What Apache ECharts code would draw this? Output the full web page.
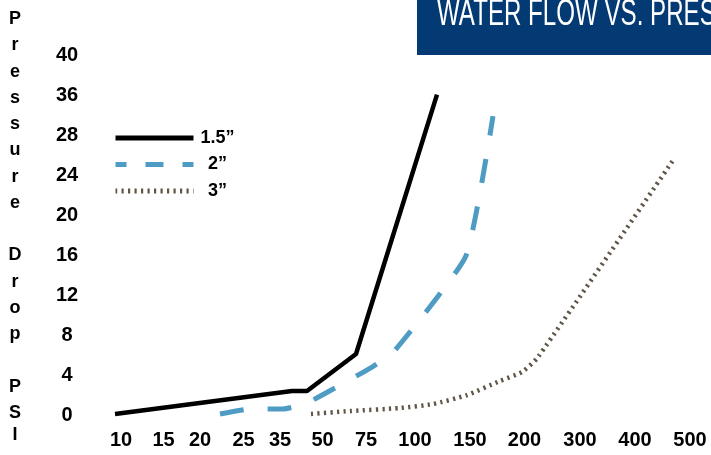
<!DOCTYPE html>
<html>
<head>
<meta charset="utf-8">
<script src="https://cdn.jsdelivr.net/npm/echarts@6/dist/echarts.min.js"></script>
<style>
html,body{margin:0;padding:0;background:#fff;}
#chart{width:711px;height:455px;}
</style>
</head>
<body>
<div id="chart"></div>
<script>
// ---- data ----
const titleText = 'WATER FLOW VS. PRESSURE DROP';
const yAxisTitle = 'Pressure Drop PSI';
const xTickLabels = ['10','15','20','25','35','50','75','100','150','200','300','400','500'];
// where each x label sits on the (unitless) horizontal scale
const xTickAt = [21, 63.5, 100, 143.5, 180, 222.5, 266, 315, 370, 424.5, 480, 535, 590];
const yTickLabels = ['0','4','8','12','16','20','24','28','36','40'];
const seriesNames = ['1.5\u201D', '2\u201D', '3\u201D'];
// [horizontal position, pressure drop]
const pipe15 = [[15,0.11],[192,2.67],[207,2.67],[256,6.78],[337,35.6]];
const pipe2  = [[120,0.11],[150,0.67],[183,0.67],[207,1.33],[272,5.33],[295,7.2],[366,17.7],[393,33.2]];
const pipe3  = [[211,0.11],[250,0.44],[300,0.78],[333,1.22],[367,2.22],[400,3.78],[422,4.78],[438,6.44],[573,28.3]];

const yTickAt = yTickLabels.map((_, i) => i * 40 / 9);
const FONT = 'Liberation Sans, Arial, sans-serif';

// stacked one-letter-per-line axis title (last line taller so the block sits a bit higher)
const yChars = yAxisTitle.split('');
const yNameRich = yChars.map((c, i) => (i === yChars.length - 1 ? '{b|' : '{a|') + (c === ' ' ? ' ' : c) + '}').join('\n');

const chart = echarts.init(document.getElementById('chart'), null, {renderer: 'canvas'});
chart.setOption({
  animation: false,
  backgroundColor: '#ffffff',
  graphic: [
    {type: 'rect', left: 417, top: 0, shape: {width: 294, height: 55}, style: {fill: '#043a74'}, silent: true},
    {type: 'text', x: 437, y: -3, scaleX: 0.67, scaleY: 1,
     style: {text: titleText, fill: '#ffffff', font: 'normal 36px "Liberation Sans", Arial, sans-serif', textVerticalAlign: 'top'},
     silent: true}
  ],
  legend: {
    orient: 'vertical',
    left: 113, top: 129, padding: 0,
    itemWidth: 78, itemHeight: 14, itemGap: 8.5,
    data: [
      {name: seriesNames[0]},
      {name: seriesNames[1], lineStyle: {type: [18, 19], dashOffset: 7}},
      {name: seriesNames[2]}
    ],
    itemStyle: {opacity: 0},
    lineStyle: {width: 5},
    formatter: '{a|{name}}',
    textStyle: {
      rich: {a: {width: 38, align: 'center', fontFamily: FONT, fontWeight: 'bold', fontSize: 18, color: '#000'}}
    }
  },
  grid: {left: 100, right: 0, top: 55, bottom: 40, containLabel: false, outerBoundsMode: 'none'},
  xAxis: {
    type: 'value', min: 0, max: 611,
    axisLine: {show: false}, axisTick: {show: false}, splitLine: {show: false},
    axisLabel: {
      customValues: xTickAt,
      margin: 15,
      fontFamily: FONT, fontWeight: 'bold', fontSize: 20, color: '#000',
      formatter: v => { const i = xTickAt.findIndex(t => Math.abs(t - v) < 0.01); return i >= 0 ? xTickLabels[i] : ''; }
    }
  },
  yAxis: {
    type: 'value', min: 0, max: 40,
    name: yNameRich,
    nameLocation: 'middle', nameRotate: 0, nameGap: 85,
    nameTextStyle: {
      align: 'center',
      rich: {
        a: {fontFamily: FONT, fontWeight: 'bold', fontSize: 18, lineHeight: 26.25, color: '#000', align: 'center'},
        b: {fontFamily: FONT, fontWeight: 'bold', fontSize: 18, lineHeight: 38, color: '#000', align: 'center', verticalAlign: 'top'}
      }
    },
    axisLine: {show: false}, axisTick: {show: false}, splitLine: {show: false},
    axisLabel: {
      customValues: yTickAt,
      margin: 33, align: 'center', padding: [4, 0, 0, 0],
      fontFamily: FONT, fontWeight: 'bold', fontSize: 20, color: '#000',
      formatter: v => { const i = Math.round(v * 9 / 40); return yTickLabels[i]; }
    }
  },
  series: [
    {name: seriesNames[0], type: 'line', data: pipe15, showSymbol: false, symbol: 'none',
     lineStyle: {color: '#000000', width: 4.5}, itemStyle: {color: '#000000', opacity: 0}},
    {name: seriesNames[1], type: 'line', data: pipe2, showSymbol: false, symbol: 'none', smooth: 0.15,
     lineStyle: {color: '#4e9cc3', width: 5, type: [24, 24], cap: 'butt'}, itemStyle: {color: '#4e9cc3', opacity: 0}},
    {name: seriesNames[2], type: 'line', data: pipe3, showSymbol: false, symbol: 'none', smooth: 0.2,
     lineStyle: {color: '#5f5646', width: 4.5, type: [2.2, 4.3], cap: 'butt'}, itemStyle: {color: '#5f5646', opacity: 0}}
  ]
});
</script>
</body>
</html>
